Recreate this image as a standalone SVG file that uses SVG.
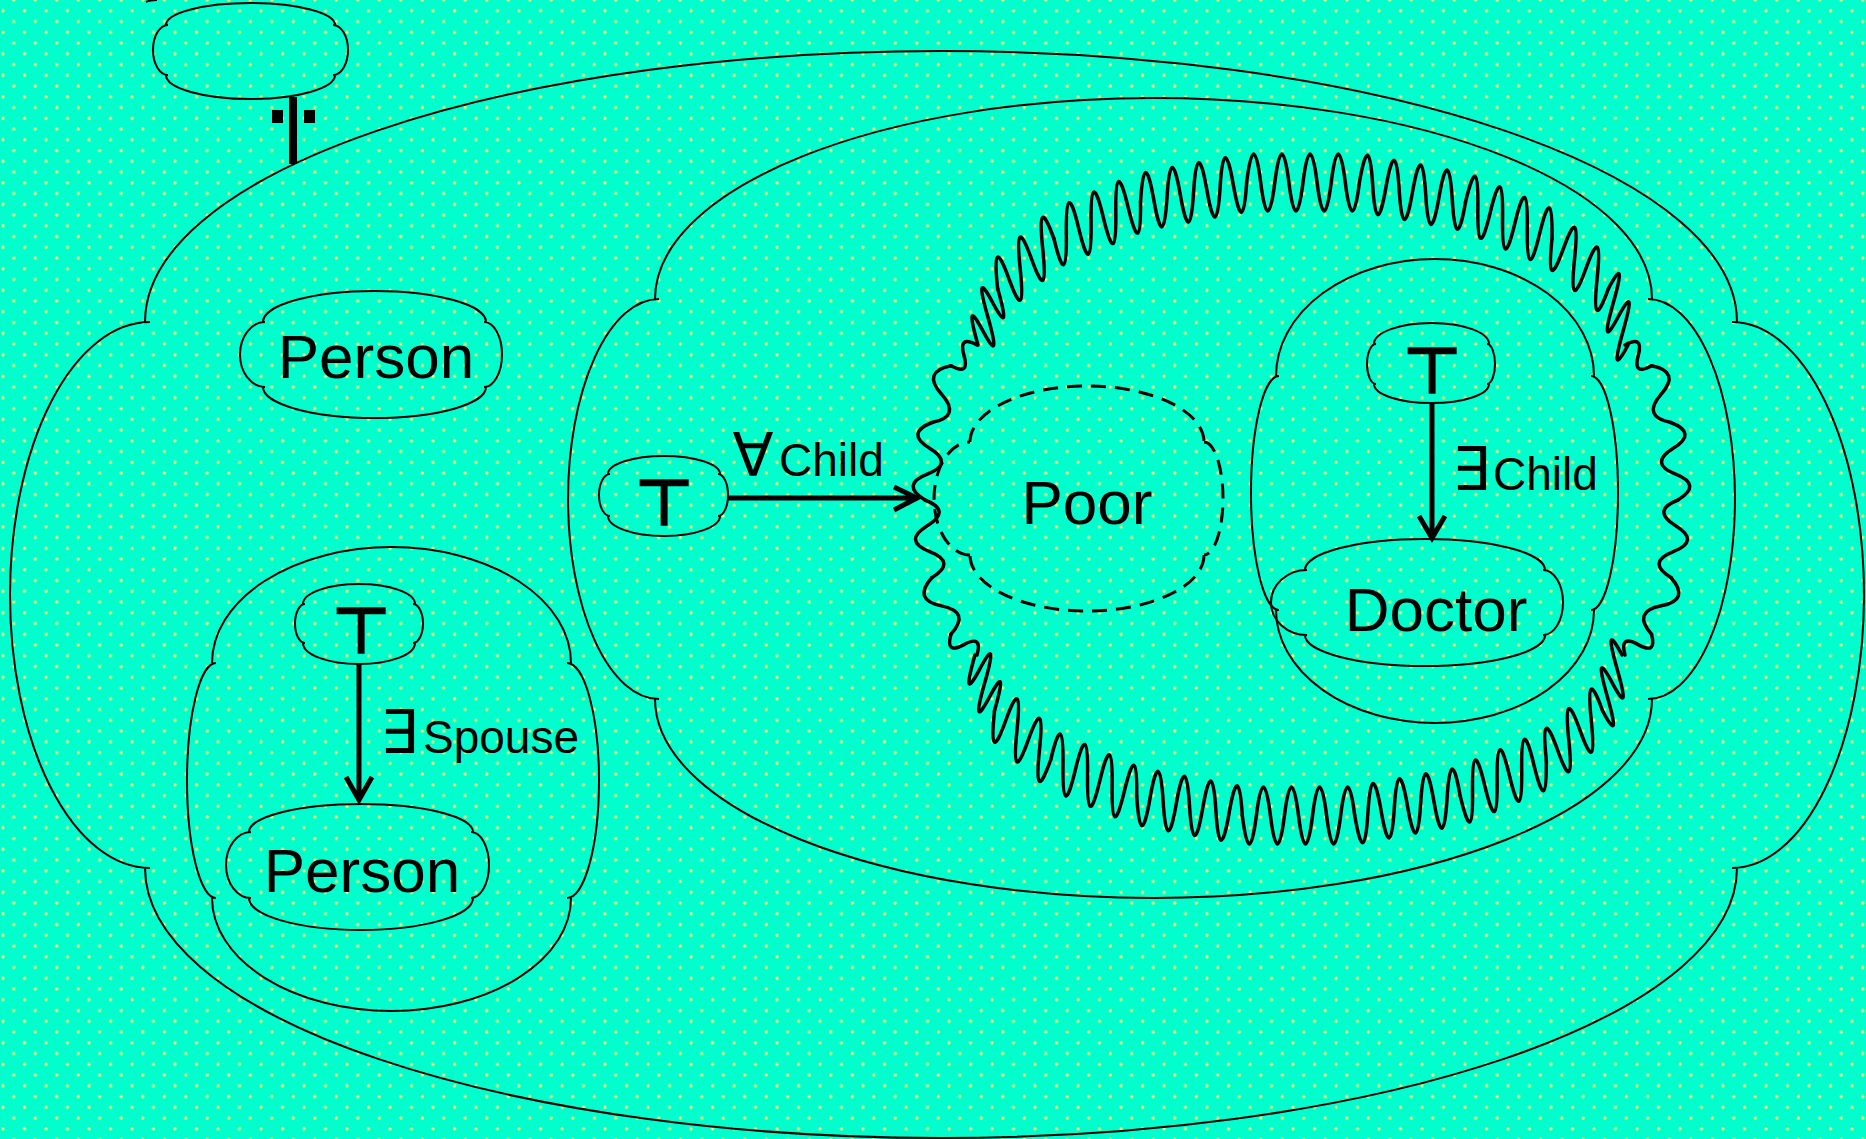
<svg xmlns="http://www.w3.org/2000/svg" width="1866" height="1139" viewBox="0 0 1866 1139">
<defs>
<pattern id="dots" x="0" y="0" width="21.5" height="21.5" patternUnits="userSpaceOnUse">
<rect width="21.5" height="21.5" fill="#00FFCC"/>
<circle cx="3" cy="10.75" r="1.6" fill="#f0ff78"/>
<circle cx="13.75" cy="0" r="1.6" fill="#f0ff78"/>
<circle cx="13.75" cy="21.5" r="1.6" fill="#f0ff78"/>
</pattern>
<style>
.ln{fill:none;stroke:#000;stroke-width:2}
.dash{fill:none;stroke:#000;stroke-width:3;stroke-dasharray:15 9}
.sq{fill:none;stroke:#000;stroke-width:3.5;stroke-linecap:round;stroke-linejoin:round;vector-effect:non-scaling-stroke}
.ar{fill:none;stroke:#000;stroke-width:5}
.big{font-family:"Liberation Sans",Arial,sans-serif;font-size:62px;text-anchor:middle;fill:#000}
.sm{font-family:"Liberation Sans",Arial,sans-serif;font-size:46px;fill:#000}
.sym{font-family:"DejaVu Sans",sans-serif;font-size:60px;text-anchor:middle;fill:#000}
.top{font-family:"DejaVu Sans",sans-serif;font-size:66px;font-weight:bold;text-anchor:middle;fill:#000}
</style>
</defs>
<rect width="1866" height="1139" fill="url(#dots)"/>
<path class="ln" d="M146,2 Q150,0 157,0"/>

<g id="outer">
<path class="ln" d="M145,322 A796,271 0 0 1 1737,322 M1732,322 A132,273 0 0 1 1732,868 M1737,868 A796,270 0 0 1 145,868 M150,868 A140,273 0 0 1 150,322"/>
</g>

<g id="cloud-top">
<path class="ln" d="M166,25 A84.5,22 0 0 1 335,25 M333,25 A15,25 0 0 1 333,75 M335,75 A84.5,24 0 0 1 166,75 M168,75 A15,25 0 0 1 168,25"/>
</g>

<g id="person1">
<path class="ln" d="M263,322 A111.5,31 0 0 1 486,322 M484,322 A18,32.5 0 0 1 484,387 M486,387 A111.5,31 0 0 1 263,387 M265,387 A25,32.5 0 0 1 265,322"/>
<text class="big" x="376" y="378">Person</text>
</g>

<g id="spouse-scope">
<path class="ln" d="M212,663 A179.5,116 0 0 1 571,663 M567,663 A32,117.5 0 0 1 567,898 M571,898 A179.5,113 0 0 1 212,898 M216,898 A29,117.5 0 0 1 216,663"/>
</g>

<g id="top-spouse">
<path class="ln" d="M303,604 A56,20 0 0 1 415,604 M413,604 A10,19.5 0 0 1 413,643 M415,643 A56,21 0 0 1 303,643 M305,643 A10,19.5 0 0 1 305,604"/>
<text class="top" x="361" y="654">⊤</text>
</g>

<g id="person2">
<path class="ln" d="M249,832 A112,28 0 0 1 473,832 M471,832 A18,33 0 0 1 471,898 M473,898 A112,32 0 0 1 249,898 M251,898 A25,33 0 0 1 251,832"/>
<text class="big" x="362" y="892">Person</text>
</g>

<g id="all-scope">
<path class="ln" d="M655,299 A498.5,201 0 0 1 1652,299 M1648,299 A87,200 0 0 1 1648,699 M1652,699 A498.5,199 0 0 1 655,699 M659,699 A91,200 0 0 1 659,299"/>
</g>

<g id="top-child">
<path class="ln" d="M608,474 A56,18 0 0 1 720,474 M718,474 A10,21 0 0 1 718,516 M720,516 A56,20 0 0 1 608,516 M610,516 A11,21 0 0 1 610,474"/>
<text class="top" x="664" y="526">⊤</text>
</g>

<g id="negation">
<path class="sq" transform="matrix(0.3289,-0.9444,0.3623,0.9321,978,345)" d="M0,0q7.46,-46 14.93,0t14.93,0t14.93,0t14.93,0"/>
<path class="sq" transform="matrix(0.7501,-0.6613,0.2151,0.9766,997.6,288.6)" d="M0,0q7.52,-54 15.04,0t15.04,0t15.04,0t15.04,0t15.04,0"/>
<path class="sq" transform="matrix(0.9202,-0.3915,0.1204,0.9927,1054,238.9)" d="M0,0q6.71,57 13.43,0t13.43,0t13.43,0t13.43,0t13.43,0t13.43,0t13.43,0"/>
<path class="sq" transform="matrix(0.9834,-0.1817,0.0548,0.9985,1140.5,202.1)" d="M0,0q6.74,-57 13.49,0t13.49,0t13.49,0t13.49,0t13.49,0t13.49,0t13.49,0t13.49,0"/>
<path class="sq" transform="translate(1246.6,182.5)" d="M0,0q7.05,-57 14.1,0t14.1,0t14.1,0t14.1,0t14.1,0t14.1,0t14.1,0t14.1,0"/>
<path class="sq" transform="matrix(0.9834,0.1817,-0.0548,0.9985,1359.4,182.5)" d="M0,0q6.74,-57 13.49,0t13.49,0t13.49,0t13.49,0t13.49,0t13.49,0t13.49,0t13.49,0"/>
<path class="sq" transform="matrix(0.9202,0.3915,-0.1204,0.9927,1465.5,202.1)" d="M0,0q6.71,-57 13.43,0t13.43,0t13.43,0t13.43,0t13.43,0t13.43,0t13.43,0"/>
<path class="sq" transform="matrix(0.7501,0.6613,-0.2151,0.9766,1552,238.9)" d="M0,0q7.52,54 15.04,0t15.04,0t15.04,0t15.04,0t15.04,0"/>
<path class="sq" transform="matrix(0.3289,0.9444,-0.3623,0.9321,1608.4,288.6)" d="M0,0q7.46,-46 14.93,0t14.93,0t14.93,0t14.93,0"/>

<path class="sq" transform="matrix(0.3305,0.9438,-0.3618,0.9323,975,655)" d="M0,0q7.37,46 14.75,0t14.75,0t14.75,0t14.75,0"/>
<path class="sq" transform="matrix(0.7536,0.6574,-0.2136,0.9769,994.5,710.7)" d="M0,0q7.46,54 14.92,0t14.92,0t14.92,0t14.92,0t14.92,0"/>
<path class="sq" transform="matrix(0.9212,0.3891,-0.1196,0.9928,1050.7,759.8)" d="M0,0q6.67,-57 13.34,0t13.34,0t13.34,0t13.34,0t13.34,0t13.34,0t13.34,0"/>
<path class="sq" transform="matrix(0.9837,0.1798,-0.0542,0.9985,1136.75,796.2)" d="M0,0q6.71,57 13.41,0t13.41,0t13.41,0t13.41,0t13.41,0t13.41,0t13.41,0t13.41,0"/>
<path class="sq" transform="translate(1242.3,815.5)" d="M0,0q7.03,57 14.05,0t14.05,0t14.05,0t14.05,0t14.05,0t14.05,0t14.05,0t14.05,0"/>
<path class="sq" transform="matrix(0.9837,-0.1798,0.0542,0.9985,1354.7,815.5)" d="M0,0q6.71,57 13.41,0t13.41,0t13.41,0t13.41,0t13.41,0t13.41,0t13.41,0t13.41,0"/>
<path class="sq" transform="matrix(0.9212,-0.3891,0.1196,0.9928,1460.25,796.2)" d="M0,0q6.67,57 13.34,0t13.34,0t13.34,0t13.34,0t13.34,0t13.34,0t13.34,0"/>
<path class="sq" transform="matrix(0.7536,-0.6574,0.2136,0.9769,1546.3,759.8)" d="M0,0q7.46,-54 14.92,0t14.92,0t14.92,0t14.92,0t14.92,0"/>
<path class="sq" transform="matrix(0.3305,-0.9438,0.3618,0.9323,1602.5,710.7)" d="M0,0q7.37,46 14.75,0t14.75,0t14.75,0t14.75,0"/>

<path class="sq" transform="translate(977,345) rotate(141.3)" d="M0,0q8.33,20 16.65,0t16.65,0"/>
<path class="sq" transform="translate(951,365.8) rotate(108.5)" d="M0,0q14.95,26 29.9,0t29.9,0"/>
<path class="sq" transform="translate(932,422.5) rotate(95.2)" d="M0,0q12.97,26 25.93,0t25.93,0t25.93,0"/>
<path class="sq" transform="translate(925,500) rotate(84.8)" d="M0,0q12.97,-26 25.93,0t25.93,0t25.93,0"/>
<path class="sq" transform="translate(932,577.5) rotate(71.5)" d="M0,0q14.95,26 29.9,0t29.9,0"/>
<path class="sq" transform="translate(951,634.2) rotate(38.7)" d="M0,0q8.33,20 16.65,0t16.65,0"/>

<path class="sq" transform="translate(1625,345) rotate(38.1)" d="M0,0q8.43,-20 16.85,0t16.85,0"/>
<path class="sq" transform="translate(1651.5,365.8) rotate(71.1)" d="M0,0q14.98,-26 29.95,0t29.95,0"/>
<path class="sq" transform="translate(1670.9,422.5) rotate(84.8)" d="M0,0q12.97,-26 25.93,0t25.93,0t25.93,0"/>
<path class="sq" transform="translate(1678,500) rotate(95.2)" d="M0,0q12.97,26 25.93,0t25.93,0t25.93,0"/>
<path class="sq" transform="translate(1670.9,577.5) rotate(108.9)" d="M0,0q14.98,-26 29.95,0t29.95,0"/>
<path class="sq" transform="translate(1651.5,634.2) rotate(141.9)" d="M0,0q8.43,-20 16.85,0t16.85,0"/>
</g>

<g id="poor">
<path class="dash" d="M970,442 A117,56 0 0 1 1204,442 M1204,442 A19,56.5 0 0 1 1204,555 M1204,555 A117,56 0 0 1 970,555 M970,555 A36,56.5 0 0 1 970,442"/>
<text class="big" x="1087" y="524">Poor</text>
</g>

<g id="exists-scope">
<path class="ln" d="M1276,376 A159,117 0 0 1 1594,376 M1591,376 A27,117 0 0 1 1591,610 M1594,610 A159,113 0 0 1 1276,610 M1279,610 A28,117 0 0 1 1279,376"/>
</g>

<g id="top-doctor">
<path class="ln" d="M1374,344 A57.5,21 0 0 1 1489,344 M1487,344 A8,20 0 0 1 1487,384 M1489,384 A57.5,19 0 0 1 1374,384 M1376,384 A9,20 0 0 1 1376,344"/>
<text class="top" x="1432" y="394">⊤</text>
</g>

<g id="doctor">
<path class="ln" d="M1305,570 A120,31 0 0 1 1545,570 M1543,570 A20,32.5 0 0 1 1543,635 M1545,635 A120,31 0 0 1 1305,635 M1307,635 A36,32.5 0 0 1 1307,570"/>
<text class="big" x="1436" y="631">Doctor</text>
</g>

<g id="connectors">
<rect x="289" y="97" width="8" height="67" fill="#000"/>
<rect x="272" y="110" width="11" height="13" fill="#000"/>
<rect x="304" y="110" width="11" height="13" fill="#000"/>
<path class="ar" d="M359,664 V799 M346,777 L359,800 L372,777"/>
<path class="ar" d="M728,498 H916 M894,487 L917,498 L894,510"/>
<path class="ar" d="M1432,403 V537 M1419,516 L1432,538 L1445,516"/>
<text class="sym" x="399" y="753">∃</text>
<text class="sm" x="423" y="753">Spouse</text>
<text class="sym" x="753" y="476">∀</text>
<text class="sm" x="779" y="476">Child</text>
<text class="sym" x="1471" y="490">∃</text>
<text class="sm" x="1493" y="490">Child</text>
</g>
</svg>
